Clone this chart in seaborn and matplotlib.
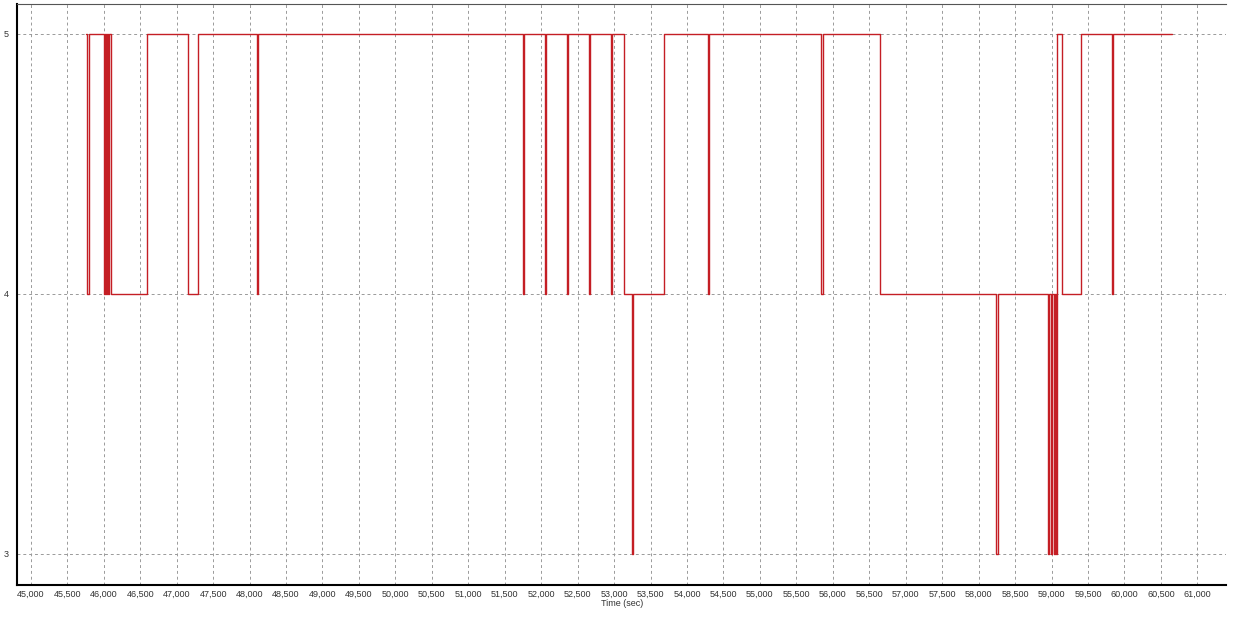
import matplotlib
matplotlib.use("Agg")
import pandas as pd
import seaborn as sns
import matplotlib.pyplot as plt
from matplotlib.ticker import MultipleLocator, StrMethodFormatter

# step changes: value holds from this time until the next one
times = [45760, 45770, 45795, 46000, 46015, 46030, 46045, 46060, 46075, 46095,
         46600, 47150, 47290, 48100, 48115, 51755, 51765, 52050, 52065, 52355,
         52365, 52655, 52665, 52955, 52975, 53140, 53245, 53255, 53680, 54290,
         54300, 55845, 55865, 56650, 58245, 58260, 58955, 58970, 58990, 59005,
         59030, 59045, 59060, 59075, 59150, 59410, 59835, 59848, 60650]
values = [5, 4, 5, 4, 5, 4, 5, 4, 5, 4,
          5, 4, 5, 4, 5, 4, 5, 4, 5, 4,
          5, 4, 5, 4, 5, 4, 3, 4, 5, 4,
          5, 4, 5, 4, 3, 4, 3, 4, 3, 4,
          3, 4, 3, 5, 4, 5, 4, 5, 5]

y_ticks = [3, 4, 5]


def main():
    sns.set_style("white")
    plt.rcParams["font.family"] = ["Liberation Sans", "DejaVu Sans"]

    df = pd.DataFrame({"time": times, "value": values})

    fig = plt.figure(figsize=(12.38, 6.17), dpi=100)
    ax = fig.add_axes([0.0137, 0.052, 0.977, 0.942])

    sns.lineplot(data=df, x="time", y="value", ax=ax, color="#c41e24",
                 linewidth=1.0, drawstyle="steps-post", sort=False)

    ax.set_xlim(44810, 61400)
    ax.set_ylim(2.88, 5.115)
    ax.set_yticks(y_ticks)
    ax.xaxis.set_major_locator(MultipleLocator(500))
    ax.xaxis.set_minor_locator(MultipleLocator(100))
    ax.xaxis.set_major_formatter(StrMethodFormatter("{x:,.0f}"))

    ax.grid(True, which="major", color="#9a9a9a", linestyle=(0, (3, 3)), linewidth=0.7)
    ax.set_axisbelow(True)

    ax.tick_params(axis="x", which="major", labelsize=6.5, length=3, direction="inout",
                   color="#444444", labelcolor="#333333", pad=2)
    ax.tick_params(axis="x", which="minor", length=2, direction="in", color="#666666")
    ax.tick_params(axis="y", labelsize=6.5, length=4, direction="out", color="#444444",
                   labelcolor="#333333", pad=2)

    ax.set_xlabel("Time (sec)", fontsize=6.5, labelpad=0, color="#333333")
    ax.set_ylabel("")

    for side in ["left", "bottom"]:
        ax.spines[side].set_color("black")
        ax.spines[side].set_linewidth(1.5)
    ax.spines["top"].set_color("#555555")
    ax.spines["top"].set_linewidth(0.8)
    ax.spines["right"].set_visible(False)

    fig.savefig("out.png", dpi=100)


if __name__ == "__main__":
    main()
